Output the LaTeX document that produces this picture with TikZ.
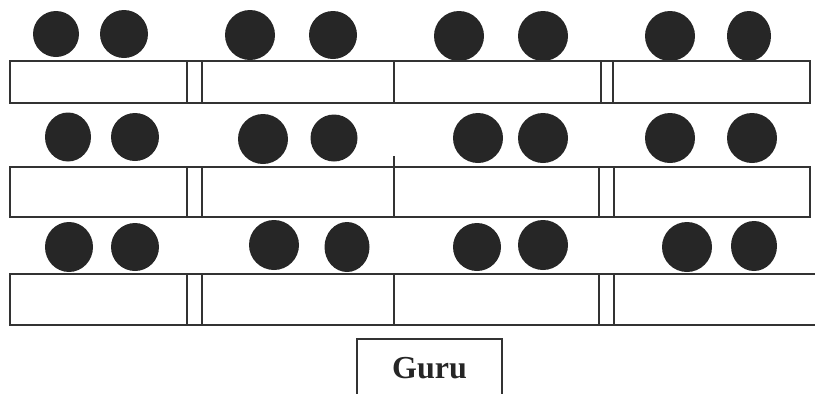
\documentclass[tikz,border=0pt]{standalone}
\usepackage{fontspec}
\setmainfont{Liberation Serif}
\usetikzlibrary{shapes.geometric}
\definecolor{seat}{HTML}{262626}
\definecolor{deskline}{HTML}{333333}
\tikzset{
  student/.style={circle,fill=seat,inner sep=0pt,minimum size=49pt},
  slimstudent/.style={ellipse,fill=seat,inner sep=0pt,minimum width=45pt,minimum height=50pt},
  desk/.style={draw=deskline,line width=1.5pt},
  guru/.style={font=\bfseries\fontsize{32}{38}\selectfont,text=seat,inner sep=0pt}
}

\begin{document}
\begin{tikzpicture}[x=1pt,y=-1pt]
  \useasboundingbox (0,0) rectangle (815,394);
  \clip (0,0) rectangle (815,394);

  % first row
  \node[student,minimum size=46pt] (s11) at (56,34) {};
  \node[student,minimum size=48pt] (s12) at (124,34) {};
  \node[student,minimum size=50pt] (s13) at (250,35) {};
  \node[student,minimum size=48pt] (s14) at (333,35) {};
  \node[student,minimum size=50pt] (s15) at (459,36) {};
  \node[student,minimum size=50pt] (s16) at (543,36) {};
  \node[student,minimum size=50pt] (s17) at (670,36) {};
  \node[slimstudent,minimum width=44pt] (s18) at (749,36) {};
  \draw[desk] (10,61) rectangle (187,103) (187,61) rectangle (202,103)
              (202,61) rectangle (394,103) (394,61) rectangle (601,103)
              (601,61) rectangle (613,103) (613,61) rectangle (810,103);

  % second row
  \node[slimstudent,minimum width=46pt,minimum height=49pt] (s21) at (68,137) {};
  \node[student,minimum size=48pt] (s22) at (135,137) {};
  \node[student,minimum size=50pt] (s23) at (263,139) {};
  \node[student,minimum size=47pt] (s24) at (334,138) {};
  \node[student,minimum size=50pt] (s25) at (478,138) {};
  \node[student,minimum size=50pt] (s26) at (543,138) {};
  \node[student,minimum size=50pt] (s27) at (670,138) {};
  \node[student,minimum size=50pt] (s28) at (752,138) {};
  \draw[desk] (10,167) rectangle (187,217) (187,167) rectangle (202,217)
              (202,167) rectangle (394,217) (394,167) rectangle (599,217)
              (599,167) rectangle (614,217) (614,167) rectangle (810,217);
  \draw[desk] (394,156) -- (394,167);

  % third row
  \node[slimstudent,minimum width=48pt,minimum height=50pt] (s31) at (69,247) {};
  \node[student,minimum size=48pt] (s32) at (135,247) {};
  \node[student,minimum size=50pt] (s33) at (274,245) {};
  \node[slimstudent] (s34) at (347,247) {};
  \node[student,minimum size=48pt] (s35) at (477,247) {};
  \node[student,minimum size=50pt] (s36) at (543,245) {};
  \node[student,minimum size=50pt] (s37) at (687,247) {};
  \node[slimstudent,minimum width=46pt] (s38) at (754,246) {};
  \draw[desk] (10,274) rectangle (187,325) (187,274) rectangle (202,325)
              (202,274) rectangle (394,325) (394,274) rectangle (599,325)
              (599,274) rectangle (614,325) (614,274) rectangle (830,325);

  % teacher
  \draw[desk] (357,339) rectangle (502,410);
  \node[guru,anchor=base] (guru) at (429.5,378) {Guru};
\end{tikzpicture}
\end{document}
